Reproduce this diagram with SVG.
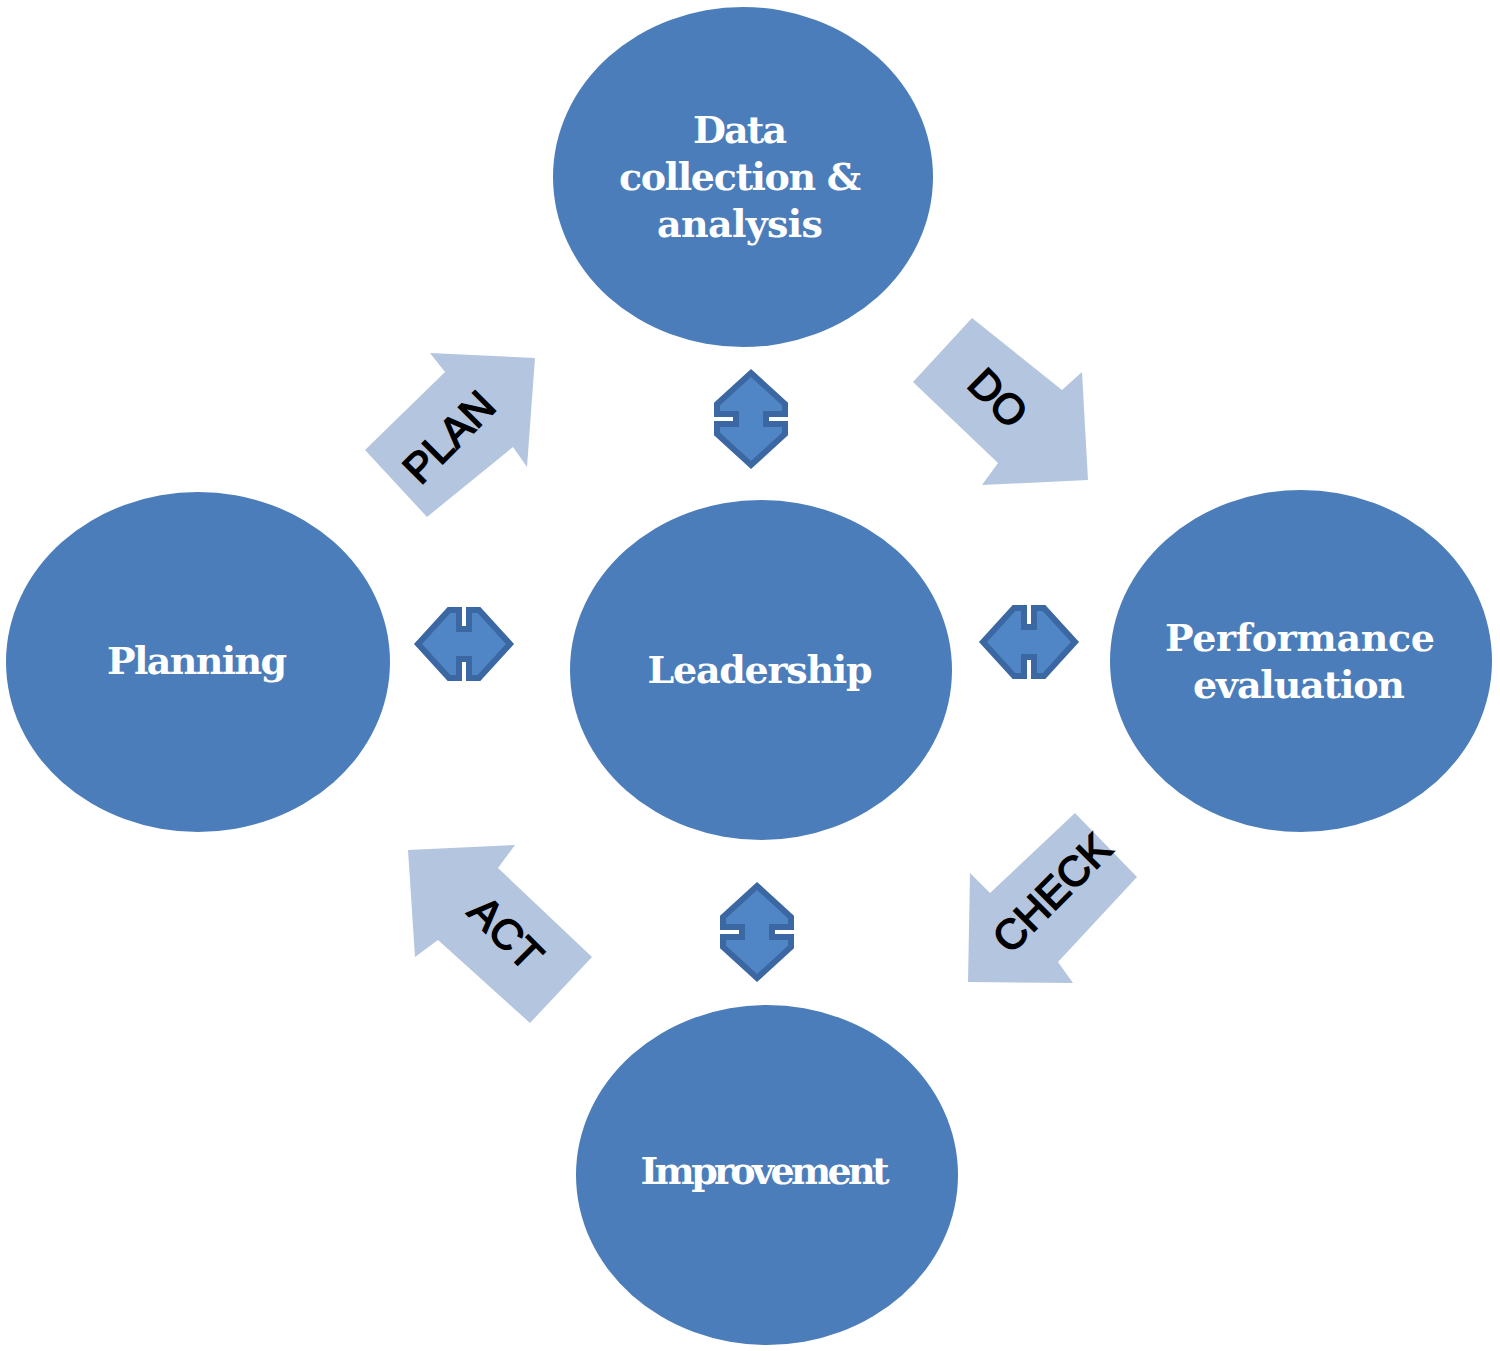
<svg xmlns="http://www.w3.org/2000/svg" width="1500" height="1351" viewBox="0 0 1500 1351">
<style>
.node{fill:#4c7dbb;}
.lbl{font-family:"DejaVu Serif","Liberation Serif",serif;font-weight:bold;font-size:38px;fill:#ffffff;text-anchor:middle;}
.big{fill:#b4c6df;}
.bl{font-family:"Liberation Sans",Arial,sans-serif;font-size:42px;fill:#000000;text-anchor:middle;dominant-baseline:central;stroke:#000;stroke-width:1.6;}
.dbl{fill:#5186c6;stroke:#3b67a3;stroke-width:6;stroke-linejoin:miter;}
</style>
<defs>
<path id="dv" d="M0,-46 L34,-15 L34,-5 L15,-5 L15,5 L34,5 L34,15 L0,46 L-34,15 L-34,5 L-15,5 L-15,-5 L-34,-5 L-34,-15 Z"/>
</defs>
<rect width="1500" height="1351" fill="#ffffff"/>
<g id="connectors">
<g id="plan-arrow">
<polygon class="big" points="365,450 445,372 430,353 535,358 527,467 513,447 427,517"/>
<text class="bl" transform="translate(449,437) rotate(-45)">PLAN</text>
</g>
<g id="do-arrow">
<polygon class="big" points="972,318 1062,390 1082,372 1088,480 982,485 998,463 913,382"/>
<text class="bl" transform="translate(998,398) rotate(45)">DO</text>
</g>
<g id="act-arrow">
<polygon class="big" points="408,850 515,845 498,868 592,957 530,1023 438,940 415,957"/>
<text class="bl" transform="translate(506,933) rotate(45)">ACT</text>
</g>
<g id="check-arrow">
<polygon class="big" points="1075,813 1137,877 1058,962 1073,983 968,982 970,873 990,893"/>
<text class="bl" transform="translate(1052,893) rotate(-45)">CHECK</text>
</g>
<use class="dbl" href="#dv" transform="translate(751,419)"/>
<use class="dbl" href="#dv" transform="translate(757,932)"/>
<use class="dbl" href="#dv" transform="translate(464,644) rotate(90)"/>
<use class="dbl" href="#dv" transform="translate(1029,642) rotate(90)"/>
</g>
<g id="node-data">
<ellipse class="node" cx="743" cy="177" rx="190" ry="170"/>
<text class="lbl" x="740" y="143" textLength="94">Data</text>
<text class="lbl" x="740" y="190" textLength="242">collection &amp;</text>
<text class="lbl" x="740" y="237" textLength="166">analysis</text>
</g>
<g id="node-planning">
<ellipse class="node" cx="198" cy="662" rx="192" ry="170"/>
<text class="lbl" x="197" y="674" textLength="180">Planning</text>
</g>
<g id="node-leadership">
<ellipse class="node" cx="761" cy="670" rx="191" ry="170"/>
<text class="lbl" x="760" y="683" textLength="225">Leadership</text>
</g>
<g id="node-performance">
<ellipse class="node" cx="1301" cy="661" rx="191" ry="171"/>
<text class="lbl" x="1300" y="651" textLength="270">Performance</text>
<text class="lbl" x="1299" y="698" textLength="212">evaluation</text>
</g>
<g id="node-improvement">
<ellipse class="node" cx="767" cy="1175" rx="191" ry="170"/>
<text class="lbl" x="765" y="1184" textLength="249">Improvement</text>
</g>
</svg>
